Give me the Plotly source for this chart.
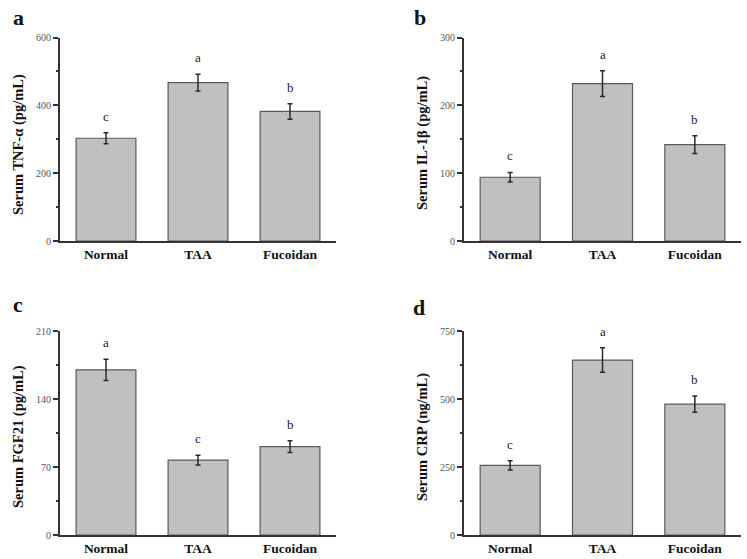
import plotly.graph_objects as go

groups = ["Normal", "TAA", "Fucoidan"]

tnf_mean = [303, 467, 382]
tnf_err = [16, 25, 23]
tnf_sig = ["c", "a", "b"]

il1b_mean = [94, 232, 142]
il1b_err = [7, 19, 13]
il1b_sig = ["c", "a", "b"]

fgf21_mean = [170, 77, 91]
fgf21_err = [11, 5, 6]
fgf21_sig = ["a", "c", "b"]

crp_mean = [256, 643, 481]
crp_err = [17, 45, 30]
crp_sig = ["c", "a", "b"]

panels = [
    dict(mean=tnf_mean, err=tnf_err, sig=tnf_sig, title="Serum TNF-α (pg/mL)",
         ymax=600, dtick=200, label="a"),
    dict(mean=il1b_mean, err=il1b_err, sig=il1b_sig, title="Serum IL-1β (pg/mL)",
         ymax=300, dtick=100, label="b"),
    dict(mean=fgf21_mean, err=fgf21_err, sig=fgf21_sig, title="Serum FGF21 (pg/mL)",
         ymax=210, dtick=70, label="c"),
    dict(mean=crp_mean, err=crp_err, sig=crp_sig, title="Serum CRP (ng/mL)",
         ymax=750, dtick=250, label="d"),
]

W, H = 747, 559
SERIF = "Liberation Serif"

# pixel layout of each panel: (x_left, x_right, y_top, y_bottom)
boxes = [(60, 336, 37.5, 241), (464, 741, 37.5, 241),
         (60, 336, 331, 535), (464, 741, 331, 535)]
title_pos = [(18, 145), (422, 143), (18, 437), (422, 437)]
label_pos = [(18, 18), (420, 18), (18, 304), (419, 307)]

fig = go.Figure()
annotations = []
layout = {}
for i, (p, box) in enumerate(zip(panels, boxes), start=1):
    sfx = "" if i == 1 else str(i)
    xl, xr, yt, yb = box
    fig.add_trace(go.Bar(
        x=groups, y=p["mean"],
        xaxis="x" + sfx, yaxis="y" + sfx,
        width=0.65,
        marker=dict(color="#c0c0c0", line=dict(color="#5a5a5a", width=1.2)),
        error_y=dict(type="data", array=p["err"], visible=True,
                     color="#2a2a2a", thickness=1.5, width=2.5),
        showlegend=False,
        hoverinfo="skip",
    ))
    layout["xaxis" + sfx] = dict(
        domain=[xl / W, xr / W], anchor="y" + sfx, automargin=False,
        range=[-0.5, 2.5], showline=True, linecolor="#333333", linewidth=2,
        ticks="", showgrid=False, zeroline=False,
        tickfont=dict(family=SERIF, size=13.5, color="#111111", weight="bold"),
    )
    layout["yaxis" + sfx] = dict(
        domain=[1 - yb / H, 1 - yt / H], anchor="x" + sfx, automargin=False,
        range=[0, p["ymax"]], dtick=p["dtick"], tick0=0,
        showline=True, linecolor="#333333", linewidth=2,
        ticks="outside", ticklen=5, tickwidth=1.5, tickcolor="#333333",
        minor=dict(ticks="outside", ticklen=2, tickwidth=1.5, tickcolor="#333333",
                   dtick=p["dtick"] / 2),
        showgrid=False, zeroline=False,
        tickfont=dict(family=SERIF, size=10, color="#555555"),
    )
    for g, m, e, s in zip(groups, p["mean"], p["err"], p["sig"]):
        annotations.append(dict(
            x=g, y=m + e, xref="x" + sfx, yref="y" + sfx, text=s,
            showarrow=False, yanchor="bottom", yshift=7,
            font=dict(family=SERIF, size=13, color="#222222"),
        ))
    tx, ty = title_pos[i - 1]
    annotations.append(dict(
        x=tx / W, y=1 - ty / H, xref="paper", yref="paper", text=p["title"],
        textangle=-90, showarrow=False, xanchor="center", yanchor="middle",
        font=dict(family=SERIF, size=14.5, color="#111111", weight="bold"),
    ))
    lx, ly = label_pos[i - 1]
    annotations.append(dict(
        x=lx / W, y=1 - ly / H, xref="paper", yref="paper", text=p["label"],
        showarrow=False, xanchor="center", yanchor="middle",
        font=dict(family=SERIF, size=22, color="#111111", weight="bold"),
    ))

fig.update_layout(
    width=W, height=H,
    margin=dict(l=0, r=0, t=0, b=0, autoexpand=False),
    paper_bgcolor="white", plot_bgcolor="white",
    annotations=annotations,
    bargap=0.35,
    **layout,
)

fig.write_html(
    "out.html",
    config={"displayModeBar": False},
    post_script="document.body.style.margin='0px';document.body.style.overflow='hidden';",
)
